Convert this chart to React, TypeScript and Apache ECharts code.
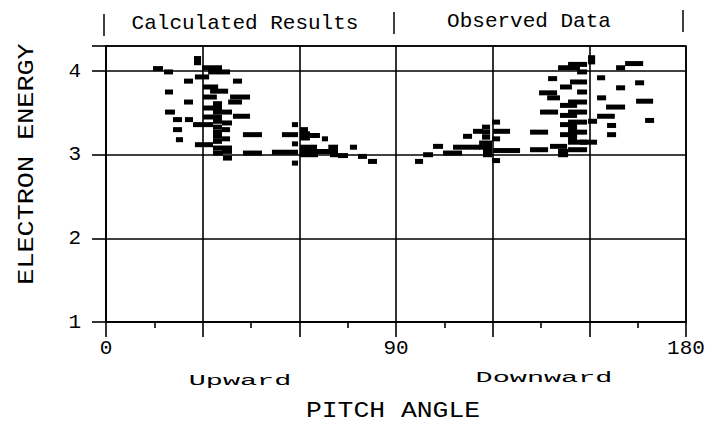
import React, { useEffect, useRef } from "react";
import * as echarts from "echarts";

// Each dash: [pitchStart, pitchEnd, energy]
const calculatedNear30: number[][] = [
  [14.6, 17.7, 4.03], [18.0, 20.8, 3.99], [27.3, 29.5, 4.15], [27.3, 29.5, 4.1],
  [29.8, 36.0, 4.04], [31.7, 38.5, 3.99], [27.6, 32.0, 3.93], [24.2, 27.0, 3.88],
  [39.4, 42.2, 3.88], [30.1, 34.8, 3.81], [32.3, 37.9, 3.76], [18.3, 20.8, 3.75],
  [30.1, 34.4, 3.69], [38.5, 44.7, 3.69], [37.9, 42.2, 3.63], [24.2, 27.0, 3.63],
  [33.2, 36.0, 3.61], [30.1, 36.0, 3.56], [18.3, 21.4, 3.51], [33.2, 36.0, 3.51],
  [36.0, 39.1, 3.51], [39.4, 44.7, 3.46], [30.1, 36.0, 3.45], [20.8, 23.6, 3.42],
  [24.5, 27.0, 3.42], [33.2, 36.0, 3.4], [27.0, 33.2, 3.36], [36.0, 39.1, 3.38],
  [33.2, 36.0, 3.33], [20.8, 23.6, 3.3], [36.0, 38.5, 3.3], [33.2, 36.0, 3.27],
  [42.5, 48.4, 3.24], [33.2, 36.0, 3.22], [21.7, 23.9, 3.18], [36.0, 38.5, 3.19],
  [33.2, 36.0, 3.16], [27.6, 33.2, 3.12], [33.2, 39.1, 3.08], [36.0, 39.1, 3.04],
  [33.2, 36.3, 3.02], [42.5, 48.4, 3.02], [36.3, 39.1, 2.96],
];

const calculatedNear60: number[][] = [
  [51.5, 59.6, 3.03], [57.7, 59.6, 3.36], [60.2, 62.7, 3.3], [54.6, 59.6, 3.24],
  [60.2, 63.3, 3.25], [60.2, 63.3, 3.2], [63.3, 66.4, 3.23], [67.0, 68.9, 3.19],
  [57.7, 59.6, 3.13], [60.2, 65.5, 3.09], [69.0, 72.0, 3.09], [60.2, 72.0, 3.04],
  [60.2, 65.8, 3.0], [75.7, 77.9, 3.09], [69.5, 72.0, 3.0], [72.0, 75.1, 2.99],
  [78.2, 81.0, 2.98], [81.3, 84.1, 2.92], [57.7, 59.6, 2.9],
];

const observedNear120: number[][] = [
  [95.9, 98.4, 2.92], [98.4, 101.5, 3.0], [101.5, 104.6, 3.1], [104.6, 110.5, 3.02],
  [107.7, 116.1, 3.09], [110.8, 113.6, 3.22], [113.9, 117.0, 3.28], [116.7, 119.2, 3.33],
  [116.7, 119.2, 3.27], [116.7, 119.2, 3.21], [115.8, 119.8, 3.14], [115.8, 119.8, 3.09],
  [117.0, 119.8, 3.04], [117.0, 119.8, 3.0], [119.8, 122.3, 3.39], [120.1, 125.4, 3.28],
  [119.8, 122.3, 3.19], [120.1, 128.5, 3.05], [119.8, 122.3, 2.93], [131.6, 137.2, 3.06],
];

const observedNear150: number[][] = [
  [149.6, 151.8, 4.16], [149.6, 151.8, 4.11], [161.1, 166.7, 4.09], [158.3, 161.1, 4.04],
  [143.4, 149.3, 4.08], [140.3, 147.1, 4.04], [146.2, 149.3, 3.99], [137.2, 140.0, 3.91],
  [152.4, 154.9, 3.92], [144.0, 149.3, 3.87], [164.2, 167.0, 3.86], [140.9, 144.6, 3.81],
  [158.3, 161.1, 3.8], [146.2, 149.3, 3.75], [134.4, 140.0, 3.74], [136.9, 140.9, 3.68],
  [152.4, 155.2, 3.68], [164.5, 169.8, 3.64], [143.4, 149.3, 3.63], [155.2, 161.1, 3.57],
  [140.9, 146.2, 3.59], [134.7, 140.3, 3.51], [143.4, 149.3, 3.51], [140.9, 146.2, 3.47],
  [152.4, 157.9, 3.46], [143.4, 149.3, 3.39], [167.3, 170.1, 3.41], [149.6, 152.4, 3.4],
  [140.9, 146.2, 3.36], [155.5, 158.3, 3.35], [143.4, 149.3, 3.27], [131.6, 137.2, 3.27],
  [143.4, 146.2, 3.31], [155.5, 158.3, 3.24], [140.9, 146.2, 3.24], [147.1, 152.4, 3.15],
  [143.4, 149.3, 3.15], [143.4, 146.2, 3.2], [137.8, 143.1, 3.1], [140.3, 143.4, 3.04],
  [140.3, 143.4, 3.0], [143.4, 149.3, 3.06],
];

const xLabelValues = [0, 90, 180];
const yLabelValues = [1, 2, 3, 4];

const MONO = "'Liberation Mono', 'DejaVu Sans Mono', monospace";

function renderDash(_params: any, api: any) {
  const x1 = api.value(0);
  const x2 = api.value(1);
  const e = api.value(2);
  const p1 = api.coord([x1, e]);
  const p2 = api.coord([x2, e]);
  const h = 5;
  return {
    type: "rect",
    shape: { x: p1[0], y: p1[1] - h / 2, width: p2[0] - p1[0], height: h },
    style: { fill: "#000" },
  };
}

export default function App() {
  const ref = useRef<HTMLDivElement>(null);
  useEffect(() => {
    if (!ref.current) return;
    const chart = echarts.init(ref.current, undefined, { renderer: "svg" });
    const lineStyle = { color: "#000", width: 1.6 };
    chart.setOption({
      animation: false,
      backgroundColor: "#fff",
      grid: {
        left: 106,
        right: 26,
        top: 46,
        bottom: 108,
        show: true,
        borderColor: "#000",
        borderWidth: 1.6,
      },
      xAxis: {
        type: "value",
        min: 0,
        max: 180,
        interval: 30,
        axisLine: { show: true, lineStyle },
        axisTick: { show: true, length: 15, lineStyle },
        minorTick: { show: true, splitNumber: 2, length: 6, lineStyle },
        splitLine: { show: true, lineStyle },
        axisLabel: {
          margin: 16,
          fontFamily: MONO,
          fontSize: 21,
          color: "#000",
          showMinLabel: true,
          showMaxLabel: true,
          formatter: (v: number) => (xLabelValues.includes(v) ? String(v) : ""),
        },
      },
      yAxis: {
        type: "value",
        min: 1,
        max: 4.3,
        interval: 1,
        axisLine: { show: true, lineStyle },
        axisTick: { show: true, length: 14, lineStyle },
        splitLine: { show: true, lineStyle },
        axisLabel: {
          margin: 25,
          fontFamily: MONO,
          fontSize: 21,
          color: "#000",
          formatter: (v: number) => (yLabelValues.includes(v) ? String(v) : ""),
        },
      },
      series: [
        {
          name: "Calculated Results",
          type: "custom",
          renderItem: renderDash,
          encode: { x: [0, 1], y: 2 },
          data: [...calculatedNear30, ...calculatedNear60],
          z: 5,
        },
        {
          name: "Observed Data",
          type: "custom",
          renderItem: renderDash,
          encode: { x: [0, 1], y: 2 },
          data: [...observedNear120, ...observedNear150],
          z: 5,
        },
      ],
      graphic: [
        { type: "line", shape: { x1: 104, y1: 14, x2: 104, y2: 36 }, style: { stroke: "#000", lineWidth: 1.5 } },
        { type: "line", shape: { x1: 394, y1: 12, x2: 394, y2: 34 }, style: { stroke: "#000", lineWidth: 1.5 } },
        { type: "line", shape: { x1: 683, y1: 10, x2: 683, y2: 32 }, style: { stroke: "#000", lineWidth: 1.5 } },
        {
          type: "text",
          x: 245,
          y: 23,
          style: { text: "Calculated Results", font: `21px ${MONO}`, fill: "#000", align: "center", verticalAlign: "middle" },
        },
        {
          type: "text",
          x: 529,
          y: 21,
          style: { text: "Observed Data", font: `21px ${MONO}`, fill: "#000", align: "center", verticalAlign: "middle" },
        },
        {
          type: "text",
          x: 240,
          y: 381,
          scaleX: 1.9,
          style: { text: "Upward", font: `15px ${MONO}`, fill: "#000", align: "center", verticalAlign: "middle" },
        },
        {
          type: "text",
          x: 544,
          y: 378,
          scaleX: 1.9,
          style: { text: "Downward", font: `15px ${MONO}`, fill: "#000", align: "center", verticalAlign: "middle" },
        },
        {
          type: "text",
          x: 393,
          y: 411,
          scaleX: 1.2,
          style: { text: "PITCH ANGLE", font: `22px ${MONO}`, fill: "#000", align: "center", verticalAlign: "middle" },
        },
        {
          type: "text",
          x: 27,
          y: 164,
          rotation: Math.PI / 2,
          scaleX: 1.22,
          style: { text: "ELECTRON ENERGY", font: `22px ${MONO}`, fill: "#000", align: "center", verticalAlign: "middle" },
        },
      ],
    });
    return () => chart.dispose();
  }, []);
  return (
    <div
      ref={ref}
      style={{ position: "fixed", left: 0, top: 0, width: 712, height: 430, background: "#fff" }}
    />
  );
}
